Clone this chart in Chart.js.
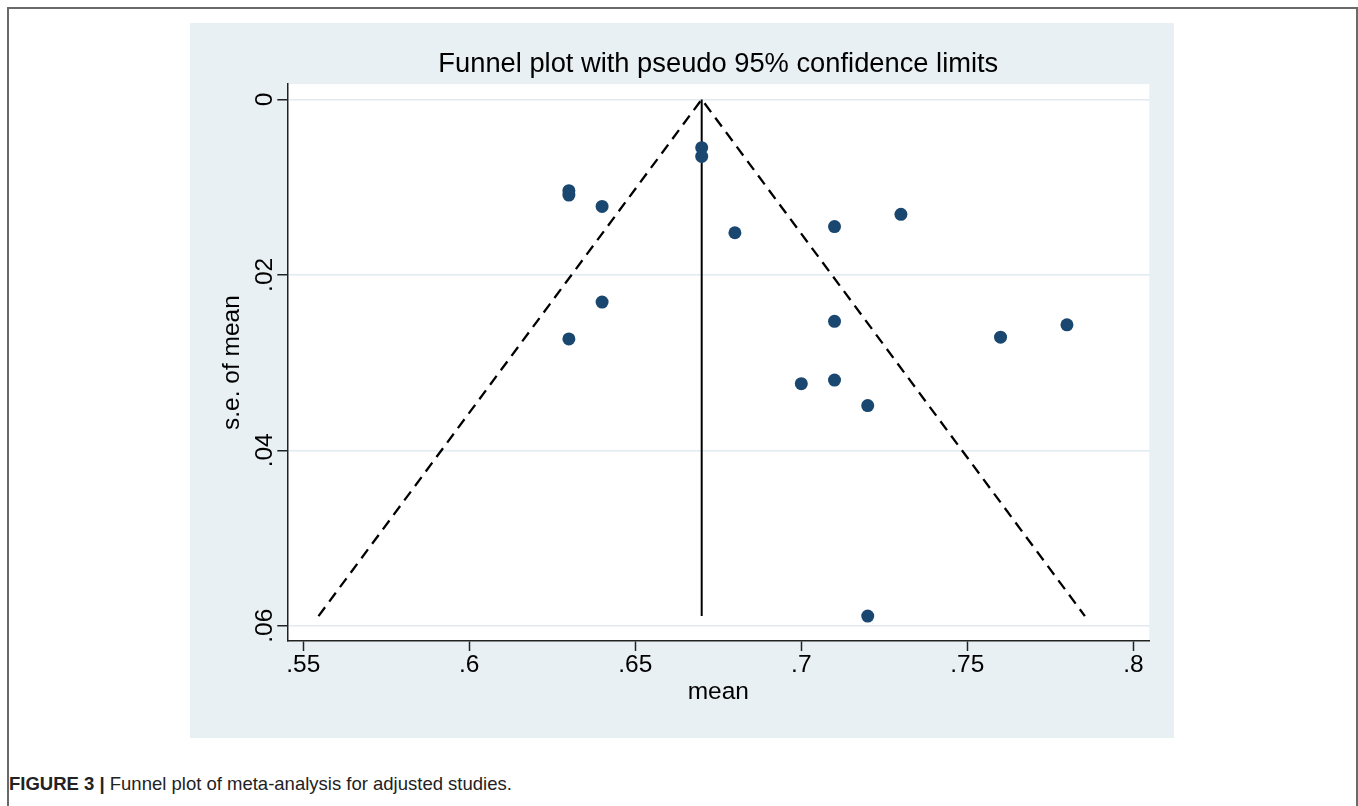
<!DOCTYPE html>
<html>
<head>
<meta charset="utf-8">
<script src="https://cdn.jsdelivr.net/npm/chart.js@4/dist/chart.umd.min.js"></script>
<style>
  html, body { margin: 0; padding: 0; background: #ffffff; width: 1358px; height: 806px; overflow: hidden; }
  #frame { position: absolute; left: 7px; top: 7px; width: 1347px; height: 820px;
           border-left: 2px solid #6a6a6a; border-top: 2px solid #6a6a6a; border-right: 2px solid #6a6a6a; }
  #chart { position: absolute; left: 190px; top: 23px; }
  #caption { position: absolute; left: 9px; top: 773px; font-family: "Liberation Sans", Arial, sans-serif;
             font-size: 18.5px; line-height: 22px; color: #222; white-space: nowrap; }
  #caption b { font-weight: bold; }
</style>
</head>
<body>
<div id="frame"></div>
<canvas id="chart" width="984" height="715"></canvas>
<div id="caption"><b>FIGURE 3 |</b> Funnel plot of meta-analysis for adjusted studies.</div>
<script>
// ---- data ----
const studyMeans = [0.67, 0.67, 0.63, 0.63, 0.64, 0.68, 0.71, 0.73, 0.64, 0.63, 0.71, 0.76, 0.78, 0.70, 0.71, 0.72, 0.72];
const studySE    = [0.0055, 0.0065, 0.0104, 0.0109, 0.0122, 0.0152, 0.0145, 0.0131, 0.0231, 0.0273, 0.0253, 0.0271, 0.0257, 0.0324, 0.0320, 0.0349, 0.0589];
const pooledMean = 0.67;
const maxSE = 0.0589;
const funnelLeftX = 0.5546;
const funnelRightX = 0.7854;
const xTicks = [0.55, 0.6, 0.65, 0.7, 0.75, 0.8];
const xTickLabels = ['.55', '.6', '.65', '.7', '.75', '.8'];
const yTicks = [0, 0.02, 0.04, 0.06];
const yTickLabels = ['0', '.02', '.04', '.06'];

const FONT = '"Liberation Sans", Arial, Helvetica, sans-serif';
const PANEL = '#e9f0f3';
const AXIS_FONT = 24.5;

const points = studyMeans.map((m, i) => ({ x: m, y: studySE[i] }));

const panelPlugin = {
  id: 'panel',
  beforeDraw(chart) {
    const { ctx, chartArea: a } = chart;
    ctx.save();
    ctx.fillStyle = PANEL;
    ctx.fillRect(0, 0, chart.width, chart.height);
    ctx.fillStyle = '#ffffff';
    ctx.fillRect(a.left, a.top, a.right - a.left, a.bottom - a.top);
    ctx.restore();
  },
  afterDraw(chart) {
    const { ctx, chartArea: a } = chart;
    const ys = chart.scales.y;
    ctx.save();
    ctx.fillStyle = '#000';
    ctx.font = AXIS_FONT + 'px ' + FONT;
    ctx.textAlign = 'center';
    ctx.textBaseline = 'middle';
    yTicks.forEach((v, i) => {
      const py = ys.getPixelForValue(v);
      ctx.save();
      ctx.translate(a.left - 22, py);
      ctx.rotate(-Math.PI / 2);
      ctx.fillText(yTickLabels[i], 0, 0);
      ctx.restore();
    });
    ctx.save();
    ctx.translate(a.left - 55, (a.top + a.bottom) / 2);
    ctx.rotate(-Math.PI / 2);
    ctx.fillText('s.e. of mean', 0, 0);
    ctx.restore();
    ctx.restore();
  }
};

new Chart(document.getElementById('chart'), {
  type: 'scatter',
  data: {
    datasets: [
      {
        data: points,
        backgroundColor: '#1a476f',
        borderWidth: 0,
        pointRadius: 6.5,
        pointHoverRadius: 6.5,
        order: 0
      },
      {
        data: [{ x: pooledMean, y: 0 }, { x: pooledMean, y: maxSE }],
        showLine: true,
        borderColor: '#000',
        borderWidth: 2,
        pointRadius: 0,
        order: 1
      },
      {
        data: [{ x: funnelLeftX, y: maxSE }, { x: pooledMean, y: 0 }, { x: funnelRightX, y: maxSE }],
        showLine: true,
        borderColor: '#000',
        borderWidth: 2.3,
        borderDash: [11, 7],
        pointRadius: 0,
        order: 2
      }
    ]
  },
  options: {
    responsive: false,
    animation: false,
    events: [],
    layout: { padding: { left: 0, top: 24.8, right: 24.7, bottom: 0 } },
    plugins: {
      legend: { display: false },
      tooltip: { enabled: false },
      title: {
        display: true,
        fullSize: false,
        text: 'Funnel plot with pseudo 95% confidence limits',
        color: '#000',
        font: { family: FONT, size: 27.3, weight: 'normal', lineHeight: 1.2 },
        padding: { top: 0, bottom: 3.6 }
      }
    },
    scales: {
      x: {
        type: 'linear',
        min: 0.5452,
        max: 0.8048,
        afterBuildTicks(scale) { scale.ticks = xTicks.map(v => ({ value: v })); },
        afterFit(scale) { scale.height = 97; },
        grid: { drawOnChartArea: false, tickLength: 10, tickColor: '#222', tickWidth: 1.5 },
        border: { color: '#222', width: 1.5 },
        ticks: {
          color: '#000',
          padding: 0,
          maxRotation: 0,
          autoSkip: false,
          font: { family: FONT, size: AXIS_FONT, lineHeight: 1.2 },
          callback: (v, i) => xTickLabels[i]
        },
        title: {
          display: true,
          text: 'mean',
          color: '#000',
          padding: { top: 0, bottom: 31 },
          font: { family: FONT, size: AXIS_FONT, lineHeight: 1.2 }
        }
      },
      y: {
        type: 'linear',
        reverse: true,
        min: -0.00174,
        max: 0.06174,
        afterBuildTicks(scale) { scale.ticks = yTicks.map(v => ({ value: v })); },
        afterFit(scale) { scale.width = 97.3; },
        grid: { color: '#e1eaef', lineWidth: 1.5, tickLength: 10, tickColor: '#222', tickWidth: 1.5 },
        border: { color: '#222', width: 1.5 },
        ticks: { display: false }
      }
    }
  },
  plugins: [panelPlugin]
});
</script>
</body>
</html>
